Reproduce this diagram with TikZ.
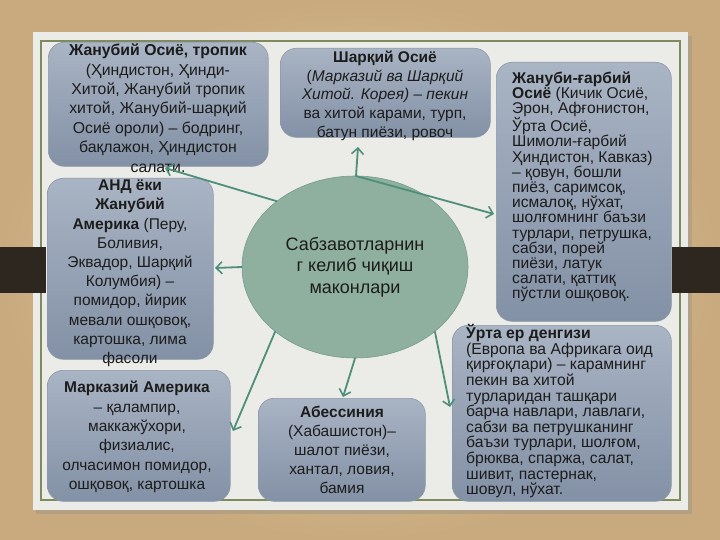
\documentclass[tikz,border=0pt]{standalone}
\usepackage{fontspec}
\setmainfont{Liberation Sans}
\usetikzlibrary{shapes.geometric,arrows.meta}
\definecolor{bgin}{HTML}{E2D0AF}
\definecolor{bgout}{HTML}{C9AA7E}
\definecolor{panel}{HTML}{EBEBE8}
\definecolor{frameline}{HTML}{7F8B5C}
\definecolor{barc}{HTML}{2E2720}
\definecolor{boxtop}{HTML}{A9B4C4}
\definecolor{boxbot}{HTML}{8391A6}
\definecolor{boxedge}{HTML}{8C98A8}
\definecolor{ellfill}{HTML}{8FB09E}
\definecolor{elledge}{HTML}{769C8A}
\definecolor{arrowc}{HTML}{4E8F7C}
\definecolor{txtc}{HTML}{1C1C1C}
\newcommand\tstrut{\rule{0pt}{0.95em}}
\begin{document}
\begin{tikzpicture}[x=1pt,y=-1pt,
  box/.style={draw=boxedge, line width=0.6pt, rounded corners=16pt,
    top color=boxtop, bottom color=boxbot, anchor=north west, inner sep=0pt},
  txt/.style={inner sep=0pt, text=txtc},
  conn/.style={draw=arrowc, line width=1.8pt, line cap=round,
    -{Straight Barb[length=6pt,width=12pt,line width=1.6pt]}}]
\useasboundingbox (0,0) rectangle (720,540);
% background
\shade[inner color=bgin, outer color=bgout] (0,0) rectangle (720,540);
\fill[black!45, opacity=0.35] (36,36) rectangle (692,514);
\fill[panel] (33,32) rectangle (688,510);
\draw[frameline, line width=1.2pt] (41,41) rectangle (680,500);
% side bars
\fill[barc] (0,247) rectangle (46,293);
\fill[barc] (672,247) rectangle (720,293);
% boxes
\node[box, minimum width=220pt, minimum height=124pt] (b1) at (48,42) {};
\node[box, minimum width=210pt, minimum height=89pt] (b2) at (280,48) {};
\node[box, minimum width=175pt, minimum height=259pt] (b3) at (496,62) {};
\node[box, minimum width=166pt, minimum height=181pt] (b4) at (47,178) {};
\node[box, minimum width=183pt, minimum height=131pt] (b5) at (47,370) {};
\node[box, minimum width=167pt, minimum height=103pt] (b6) at (258,398) {};
\node[box, minimum width=219pt, minimum height=176pt] (b7) at (452,325) {};
% centre ellipse
\node[ellipse, draw=elledge, line width=0.6pt, fill=ellfill, minimum width=226pt,
  minimum height=182pt, inner sep=0pt, align=center, text=txtc,
  font=\fontsize{18}{21.5}\selectfont] (ell) at (355,267)
  {Сабзавотларнин\\г келиб чиқиш\\маконлари};
% texts
\node[txt, anchor=north, align=center, font=\fontsize{15.8}{19.4}\selectfont] (t1) at (158,40.5)
  {\tstrut\textbf{Жанубий Осиё, тропик}\\(Ҳиндистон, Ҳинди-\\Хитой, Жанубий тропик\\хитой, Жанубий-шарқий\\Осиё ороли) – бодринг,\\бақлажон, Ҳиндистон\\салати.};
\node[txt, anchor=north, align=center, font=\fontsize{15.5}{18.6}\selectfont] (t2) at (385,47.7)
  {\tstrut\textbf{Шарқий Осиё}\\(\textit{Марказий ва Шарқий}\\\textit{Хитой. Корея) – пекин}\\ва хитой карами, турп,\\батун пиёзи, ровоч};
\node[txt, anchor=north west, align=left, font=\fontsize{15.6}{15.2}\selectfont] (t3) at (512,68)
  {\tstrut\textbf{Жануби-ғарбий}\\\textbf{Осиё} (Кичик Осиё,\\Эрон, Афғонистон,\\Ўрта Осиё,\\Шимоли-ғарбий\\Ҳиндистон, Кавказ)\\– қовун, бошли\\пиёз, саримсоқ,\\исмалоқ, нўхат,\\шолғомнинг баъзи\\турлари, петрушка,\\сабзи, порей\\пиёзи, латук\\салати, қаттиқ\\пўстли ошқовоқ.};
\node[txt, anchor=north, align=center, font=\fontsize{15.5}{19.2}\selectfont] (t4) at (130,175.7)
  {\tstrut\textbf{АНД ёки}\\\textbf{Жанубий}\\\textbf{Америка} (Перу,\\Боливия,\\Эквадор, Шарқий\\Колумбия) –\\помидор, йирик\\мевали ошқовоқ,\\картошка, лима\\фасоли};
\node[txt, anchor=north, align=center, font=\fontsize{15.5}{19.4}\selectfont] (t5) at (137,377.7)
  {\tstrut\textbf{Марказий Америка}\\– қалампир,\\маккажўхори,\\физиалис,\\олчасимон помидор,\\ошқовоқ, картошка};
\node[txt, anchor=north, align=center, font=\fontsize{15.5}{19}\selectfont] (t6) at (342,402.7)
  {\tstrut\textbf{Абессиния}\\(Хабашистон)–\\шалот пиёзи,\\хантал, ловия,\\бамия};
\node[txt, anchor=north west, align=left, font=\fontsize{15.7}{15.6}\selectfont] (t7) at (466,323.5)
  {\tstrut\textbf{Ўрта ер денгизи}\\(Европа ва Африкага оид\\қирғоқлари) – карамнинг\\пекин ва хитой\\турларидан ташқари\\барча навлари, лавлаги,\\сабзи ва петрушканинг\\баъзи турлари, шолғом,\\брюква, спаржа, салат,\\шивит, пастернак,\\шовул, нўхат.};
% arrow ends
\coordinate (e1) at (165,168);
\coordinate (e2) at (358,147);
\coordinate (e3) at (494,214);
\coordinate (e4) at (215,268);
\coordinate (e5) at (233,431);
\coordinate (e6) at (343,397);
\coordinate (e7) at (450,407);
\coordinate (s0) at (356,176);
% connectors
\draw[conn] (ell.140) -- (e1);
\draw[conn] (s0) -- (e2);
\draw[conn] (s0) -- (e3);
\draw[conn] (ell.west) -- (e4);
\draw[conn] (ell.219) -- (e5);
\draw[conn] (ell.south) -- (e6);
\draw[conn] (ell.-39) -- (e7);
\end{tikzpicture}
\end{document}
